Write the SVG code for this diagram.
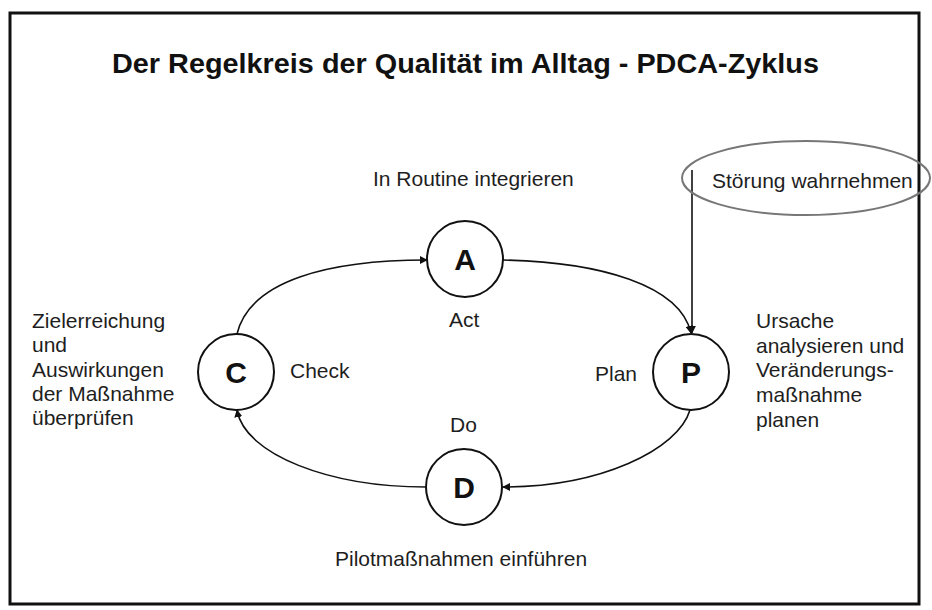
<svg xmlns="http://www.w3.org/2000/svg" width="932" height="610" viewBox="0 0 932 610">
  <style>
    .t { font-family: "Liberation Sans", Arial, sans-serif; font-size: 21px; fill: #1e1e1e; }
    .title { font-family: "Liberation Sans", Arial, sans-serif; font-size: 28px; font-weight: bold; fill: #111; }
    .node circle { fill: #fff; stroke: #111; stroke-width: 2; }
    .node .letter { font-family: "Liberation Sans", Arial, sans-serif; font-size: 30px; font-weight: bold; fill: #111; text-anchor: middle; }
    .conn { fill: none; stroke: #111; stroke-width: 1.6; }
  </style>
  <defs>
    <marker id="arr" viewBox="0 0 10 10" refX="9" refY="5" markerWidth="8" markerHeight="8" markerUnits="userSpaceOnUse" orient="auto">
      <path d="M0,0 L10,5 L0,10 z" fill="#111"/>
    </marker>
  </defs>
  <rect x="0" y="0" width="932" height="610" fill="#fff"/>
  <rect x="10" y="13" width="909" height="591" fill="none" stroke="#111" stroke-width="3"/>

  <text class="title" x="112" y="73" textLength="707" lengthAdjust="spacingAndGlyphs">Der Regelkreis der Qualität im Alltag - PDCA-Zyklus</text>

  <g id="connectors">
    <path class="conn" d="M237 334 C250 280 330 260 427 260" marker-end="url(#arr)"/>
    <path class="conn" d="M503 260 C600 262 680 285 691 333" marker-end="url(#arr)"/>
    <path class="conn" d="M692 170 L692 333" marker-end="url(#arr)"/>
    <path class="conn" d="M690 410 C678 450 600 487 503 487" marker-end="url(#arr)"/>
    <path class="conn" d="M426 487 C330 487 245 455 237 410" marker-end="url(#arr)"/>
  </g>

  <g id="stoerung">
    <ellipse cx="806" cy="178" rx="124" ry="37" fill="none" stroke="#777" stroke-width="2"/>
    <text class="t" x="712" y="188">Störung wahrnehmen</text>
  </g>

  <g id="node-A" class="node">
    <circle cx="465" cy="259" r="38"/>
    <text class="letter" x="465" y="270">A</text>
  </g>
  <g id="node-P" class="node">
    <circle cx="691" cy="372" r="38"/>
    <text class="letter" x="691" y="383">P</text>
  </g>
  <g id="node-D" class="node">
    <circle cx="464" cy="487" r="38"/>
    <text class="letter" x="464" y="498">D</text>
  </g>
  <g id="node-C" class="node">
    <circle cx="236" cy="372" r="38"/>
    <text class="letter" x="236" y="383">C</text>
  </g>

  <g id="labels">
    <text class="t" x="373" y="186">In Routine integrieren</text>
    <text class="t" x="449" y="327">Act</text>
    <text class="t" x="290" y="378">Check</text>
    <text class="t" x="595" y="381">Plan</text>
    <text class="t" x="450" y="432">Do</text>
    <text class="t" x="335" y="566">Pilotmaßnahmen einführen</text>
  </g>

  <g id="text-check">
    <text class="t" x="32" y="328">Zielerreichung</text>
    <text class="t" x="32" y="352">und</text>
    <text class="t" x="32" y="377">Auswirkungen</text>
    <text class="t" x="32" y="401">der Maßnahme</text>
    <text class="t" x="32" y="425">überprüfen</text>
  </g>

  <g id="text-plan">
    <text class="t" x="756" y="328">Ursache</text>
    <text class="t" x="756" y="353">analysieren und</text>
    <text class="t" x="756" y="377">Veränderungs-</text>
    <text class="t" x="756" y="402">maßnahme</text>
    <text class="t" x="756" y="427">planen</text>
  </g>
</svg>
